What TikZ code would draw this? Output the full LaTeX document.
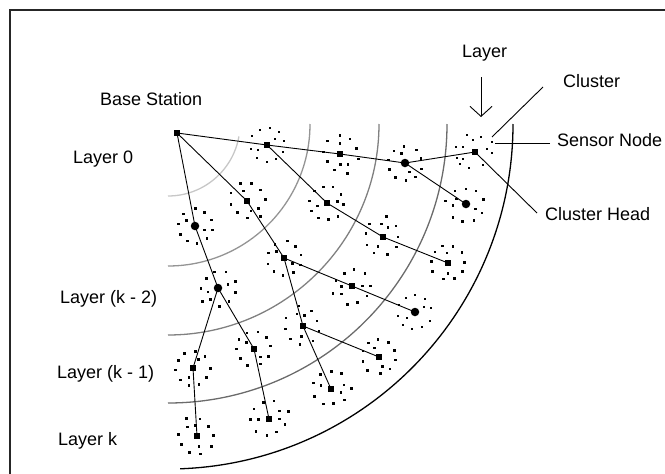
\documentclass[tikz,border=0pt]{standalone}
\usepackage{fontspec}
\setmainfont{Liberation Sans}
\usetikzlibrary{arrows.meta}
% #1,#2 = cluster head, #3 = rotation, #4 = pattern list macro
\newcommand\sensdots[4]{%
  \foreach \dx/\dy in #4{%
    \fill ({#1+\dx*cos(#3)-\dy*sin(#3)-1.25},{#2+\dx*sin(#3)+\dy*cos(#3)-1.25}) rectangle ++(2.6,2.6);
  }}
\def\patA{-15/-9,-7/-15,3/-17,12/-13,17/-4,16/7,9/14,0/17,-10/13,-16/4,-9/5,8/-6}
\def\patB{-12/-14,-2/-18,9/-15,17/-8,13/3,18/10,6/16,-5/14,-14/9,-18/-2,-7/-8,7/8}
\begin{document}
\begin{tikzpicture}[x=1pt,y=-1pt,
  lbl/.style={font=\fontsize{18}{20}\selectfont, inner sep=0pt, anchor=base west},
  ch/.style={fill=black, rectangle, minimum size=6pt, inner sep=0pt},
  chb/.style={fill=black, circle, minimum size=8.5pt, inner sep=0pt},
  link/.style={line width=0.9pt},
  pointer/.style={line width=0.9pt},
  frame/.style={line width=1.6pt, draw=black!85},
  ring/.style={line width=1.3pt}]
\useasboundingbox (0,0) rectangle (665,474);
\draw[frame] (10,480) -- (10,10) -- (670,10);

% layers
\coordinate (O) at (168,124);
\draw[ring, draw=black!22] (O) ++(10:72) arc[start angle=10, end angle=90, radius=72];
\draw[ring, draw=black!42] (O) ++(0:142) arc[start angle=0, end angle=90, radius=142];
\draw[ring, draw=black!50] (O) ++(0:211) arc[start angle=0, end angle=90, radius=211];
\draw[ring, draw=black!58] (O) ++(0:279) arc[start angle=0, end angle=90, radius=279];
\draw[ring, draw=black] (O) ++(0:345) arc[start angle=0, end angle=88, radius=345];

% sensor nodes
\sensdots{267}{145}{0}{\patA}
\sensdots{340}{154}{40}{\patB}
\sensdots{405}{163}{100}{\patA}
\sensdots{466}{204}{160}{\patB}
\sensdots{327}{203}{200}{\patA}
\sensdots{383}{237}{250}{\patB}
\sensdots{448}{263}{300}{\patA}
\sensdots{247}{201}{20}{\patB}
\sensdots{284}{258}{70}{\patA}
\sensdots{352}{286}{130}{\patB}
\sensdots{415}{312}{180}{\patA}
\sensdots{303}{326}{230}{\patB}
\sensdots{379}{357}{280}{\patA}
\sensdots{331}{389}{330}{\patB}
\sensdots{195}{226}{60}{\patA}
\sensdots{218}{288}{110}{\patB}
\sensdots{193}{368}{150}{\patA}
\sensdots{197}{436}{210}{\patB}
\sensdots{254}{349}{260}{\patA}
\sensdots{269}{419}{310}{\patB}
\foreach \p in {(467,135),(473,140),(481,137),(492,142),(456,147),(463,147),(487,149),(492,153),(457,158),(463,159),(460,164),(469,168),(483,165)}
  \fill \p ++(-1.25,-1.25) rectangle ++(2.6,2.6);

% base station and cluster heads
\node[ch] (bs) at (177,133) {};
\node[ch] (c1) at (267,145) {};
\node[ch] (c2) at (340,154) {};
\node[chb] (c3) at (405,163) {};
\node[ch] (c4) at (475,152) {};
\node[chb] (c5) at (466,204) {};
\node[ch] (c6) at (327,203) {};
\node[ch] (c7) at (383,237) {};
\node[ch] (c8) at (448,263) {};
\node[ch] (c9) at (247,201) {};
\node[ch] (c10) at (284,258) {};
\node[ch] (c11) at (352,286) {};
\node[chb] (c12) at (415,312) {};
\node[ch] (c13) at (303,326) {};
\node[ch] (c14) at (379,357) {};
\node[ch] (c15) at (331,389) {};
\node[chb] (c16) at (195,226) {};
\node[chb] (c17) at (218,288) {};
\node[ch] (c18) at (193,368) {};
\node[ch] (c19) at (197,436) {};
\node[ch] (c20) at (254,349) {};
\node[ch] (c21) at (269,419) {};

% routing tree
\draw[link] (bs.center) -- (c1.center) -- (c2.center) -- (c3.center) -- (c4.center);
\draw[link] (c3.center) -- (c5.center);
\draw[link] (c1.center) -- (c6.center) -- (c7.center) -- (c8.center);
\draw[link] (bs.center) -- (c9.center) -- (c10.center) -- (c11.center) -- (c12.center);
\draw[link] (c10.center) -- (c13.center) -- (c14.center);
\draw[link] (c13.center) -- (c15.center);
\draw[link] (bs.center) -- (c16.center) -- (c17.center) -- (c18.center) -- (c19.center);
\draw[link] (c17.center) -- (c20.center) -- (c21.center);

% labels
\node[lbl] (tbs) at (100,105) {Base Station};
\node[lbl] (tl0) at (73,163) {Layer 0};
\node[lbl] (tlk2) at (60,303) {Layer (k - 2)};
\node[lbl] (tlk1) at (57,378) {Layer (k - 1)};
\node[lbl] (tlk) at (58,445) {Layer k};
\node[lbl] (tlay) at (462,57) {Layer};
\node[lbl] (tcl) at (563,87) {Cluster};
\node[lbl] (tsn) at (557,146) {Sensor Node};
\node[lbl] (tch) at (545,220) {Cluster Head};

% pointers
\coordinate (arrs) at (481,77);
\coordinate (arre) at (481,117);
\draw[pointer, -{Straight Barb[length=10pt, width=22pt]}] (arrs) -- (arre);
\coordinate (cls) at (543,87);
\coordinate (cle) at (492,137);
\draw[pointer] (cls) -- (cle);
\coordinate (sns) at (550,143);
\coordinate (sne) at (495,143);
\draw[pointer] (sns) -- (sne);
\coordinate (che) at (537,213);
\draw[pointer] (c4.center) -- (che);
\end{tikzpicture}
\end{document}
